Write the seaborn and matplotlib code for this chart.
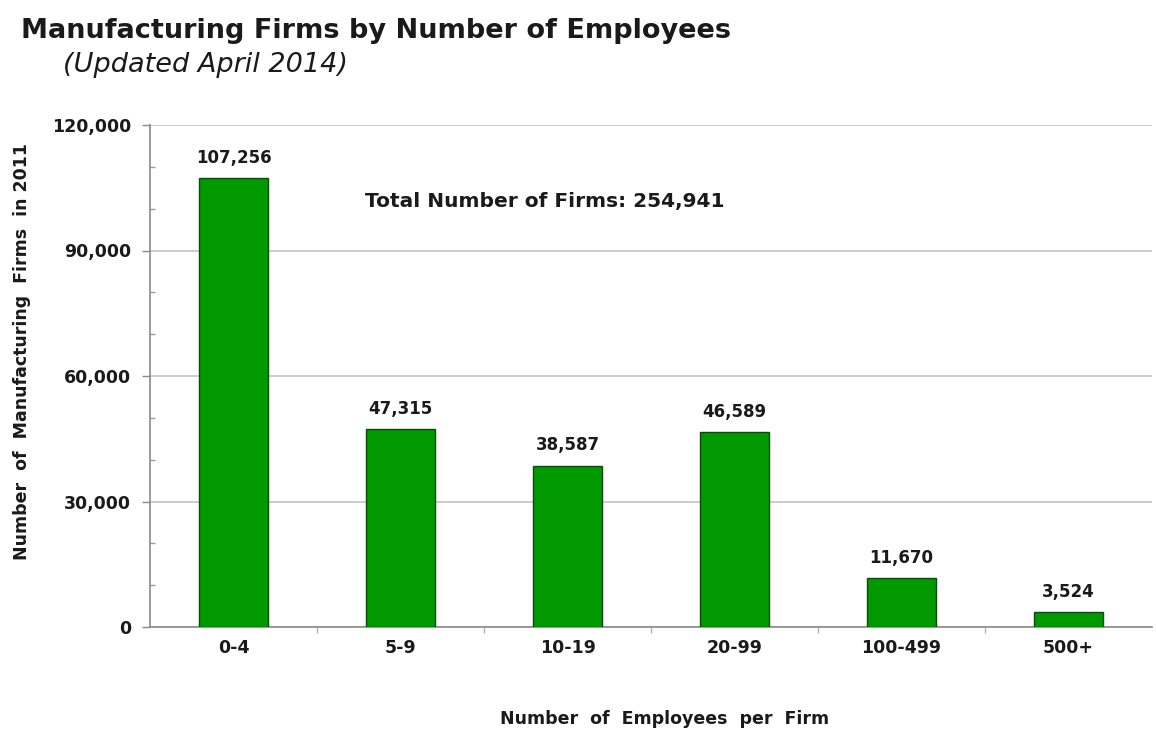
import matplotlib
matplotlib.use("Agg")
import matplotlib.pyplot as plt
import seaborn as sns
import pandas as pd
from matplotlib.ticker import MultipleLocator, FixedLocator, FuncFormatter

categories = ["0-4", "5-9", "10-19", "20-99", "100-499", "500+"]
firms = [107256, 47315, 38587, 46589, 11670, 3524]
yticks = [0, 30000, 60000, 90000, 120000]
title = "Manufacturing Firms by Number of Employees"
subtitle = "(Updated April 2014)"
note = "Total Number of Firms: 254,941"

df = pd.DataFrame({"cat": categories, "firms": firms})

sns.set_theme(style="white")
plt.rcParams['font.family'] = ['DejaVu Sans']

fig = plt.figure(figsize=(11.56, 7.31), dpi=100)
ax = fig.add_axes([150/1156, 1 - 627/731, 1002/1156, 502/731])

sns.barplot(data=df, x="cat", y="firms", color="#009a00", saturation=1,
            width=0.41, edgecolor="#0a4a0a", linewidth=1.0, ax=ax, zorder=3)

ax.set_ylim(0, 120000)
ax.set_xlim(-0.5, len(categories) - 0.5)
ax.set_yticks(yticks)
ax.yaxis.set_minor_locator(MultipleLocator(10000))
ax.yaxis.set_major_formatter(FuncFormatter(lambda v, p: f"{int(v):,}"))
ax.xaxis.set_minor_locator(FixedLocator([i + 0.5 for i in range(len(categories) - 1)]))
ax.grid(axis="y", which="major", color="#c4c4c4", linewidth=1.2, zorder=0)

for s in ["top", "right"]:
    ax.spines[s].set_visible(False)
for s in ["left", "bottom"]:
    ax.spines[s].set_color("#8a8a8a")
    ax.spines[s].set_linewidth(1.2)

ax.tick_params(axis="y", which="major", length=5.5, width=1, color="#8a8a8a",
               direction="out", labelsize=12.5, pad=8, left=True)
ax.tick_params(axis="y", which="minor", length=3.5, width=1, color="#9a9a9a",
               direction="in", left=True)
ax.tick_params(axis="x", which="major", length=0, labelsize=12.5, pad=8.5)
ax.tick_params(axis="x", which="minor", length=4, width=1, color="#b0b0b0", bottom=True)
for lbl in ax.get_xticklabels() + ax.get_yticklabels():
    lbl.set_fontweight("bold")
    lbl.set_color("#1a1a1a")

ax.set_xlabel("Number  of  Employees  per  Firm", fontsize=12.5, fontweight="bold",
              labelpad=38, color="#1a1a1a")
ax.xaxis.label.set_x(0.514)
ax.set_ylabel("Number  of  Manufacturing  Firms  in 2011", fontsize=12.5,
              fontweight="bold", labelpad=15, color="#1a1a1a")
ax.yaxis.label.set_y(0.548)

for i, v in enumerate(firms):
    ax.annotate(f"{v:,}", xy=(i, v), xytext=(0, 8), textcoords="offset points",
                ha="center", va="bottom", fontsize=12, fontweight="bold",
                color="#1a1a1a")

ax.text(0.215, 0.848, note, transform=ax.transAxes, fontsize=14.5, fontweight="bold",
        color="#1a1a1a", ha="left", va="center")

fig.text(21/1156, 1 - 31/731, title, fontsize=19.5, fontweight="bold",
         color="#1a1a1a", ha="left", va="center")
fig.text(63/1156, 1 - 65/731, subtitle, fontsize=19.5, style="italic",
         color="#1a1a1a", ha="left", va="center")

fig.savefig("out.png", dpi=100, facecolor="white")
